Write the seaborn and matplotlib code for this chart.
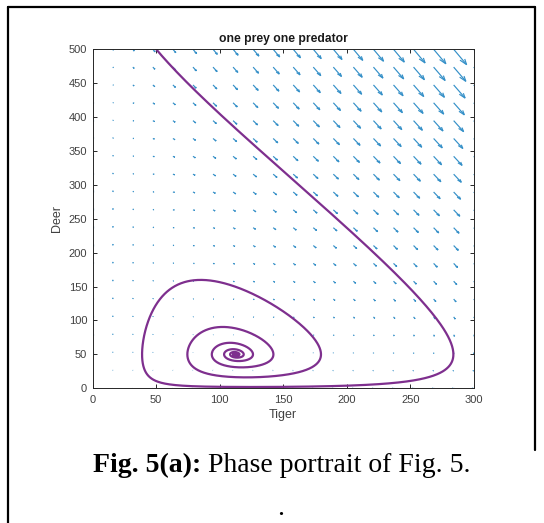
import numpy as np
import pandas as pd
import matplotlib
matplotlib.use("Agg")
import matplotlib.pyplot as plt
from matplotlib.lines import Line2D
from matplotlib.collections import LineCollection
import seaborn as sns

# Tiger (predator) / deer (prey) model coefficients
tiger_death = 0.05        # natural loss rate of tigers
tiger_gain = 0.001        # tiger growth per deer eaten
deer_growth = 0.25        # deer birth rate
deer_capacity = 500.0     # deer carrying capacity
deer_loss = 0.002         # deer lost per tiger encounter

# Initial populations of the plotted orbit: tiger, deer
start_tiger = 50.0
start_deer = 500.0
t_end = 520.0
dt = 0.05

# Direction-field sample grid and axis ticks
grid_tiger = np.linspace(0, 300, 20)
grid_deer = np.linspace(0, 500, 20)
x_ticks = [0, 50, 100, 150, 200, 250, 300]
y_ticks = [0, 50, 100, 150, 200, 250, 300, 350, 400, 450, 500]

title = "one prey one predator"
x_label = "Tiger"
y_label = "Deer"
caption_bold = "Fig. 5(a):"
caption_text = " Phase portrait of Fig. 5."


def rates(x, y):
    dx = -tiger_death * x + tiger_gain * x * y
    dy = deer_growth * y * (1.0 - y / deer_capacity) - deer_loss * x * y
    return dx, dy


# Integrate the orbit with classic RK4
n_steps = int(t_end / dt)
tig = np.empty(n_steps + 1)
dee = np.empty(n_steps + 1)
x, y = start_tiger, start_deer
tig[0], dee[0] = x, y
for i in range(n_steps):
    a1, b1 = rates(x, y)
    a2, b2 = rates(x + 0.5 * dt * a1, y + 0.5 * dt * b1)
    a3, b3 = rates(x + 0.5 * dt * a2, y + 0.5 * dt * b2)
    a4, b4 = rates(x + dt * a3, y + dt * b3)
    x += dt / 6.0 * (a1 + 2 * a2 + 2 * a3 + a4)
    y += dt / 6.0 * (b1 + 2 * b2 + 2 * b3 + b4)
    tig[i + 1], dee[i + 1] = x, y
orbit = pd.DataFrame({x_label: tig, y_label: dee})

# Direction field, auto-scaled so the longest arrow spans 0.9 grid cells
GX, GY = np.meshgrid(grid_tiger, grid_deer)
U, V = rates(GX, GY)
n_side = np.sqrt(GX.size)
delx = (grid_tiger.max() - grid_tiger.min()) / n_side
dely = (grid_deer.max() - grid_deer.min()) / n_side
arrow_len = np.sqrt((U ** 2 + V ** 2) / (delx ** 2 + dely ** 2))
k = 0.9 / arrow_len.max()
u = (U * k).ravel()
v = (V * k).ravel()
x0 = GX.ravel()
y0 = GY.ravel()

# Shaft plus two open head strokes (head = a third of the arrow)
alpha, beta = 0.33, 0.25
tipx, tipy = x0 + u, y0 + v
segs = []
for i in range(x0.size):
    segs.append([(x0[i], y0[i]), (tipx[i], tipy[i])])
    h1 = (tipx[i] - alpha * (u[i] + beta * v[i]), tipy[i] - alpha * (v[i] - beta * u[i]))
    h2 = (tipx[i] - alpha * (u[i] - beta * v[i]), tipy[i] - alpha * (v[i] + beta * u[i]))
    segs.append([h1, (tipx[i], tipy[i]), h2])

sns.set_theme(style="ticks")
plt.rcParams["font.family"] = ["Liberation Sans", "DejaVu Sans"]

axis_col = "#262626"
label_col = "#404040"

fig = plt.figure(figsize=(5.44, 5.23), dpi=100)
ax = fig.add_axes([0.1704, 0.2576, 0.7004, 0.6482])

field = LineCollection(segs, colors="#3590c8", linewidths=0.85,
                       capstyle="butt", joinstyle="miter", zorder=1)
ax.add_collection(field)

sns.lineplot(data=orbit, x=x_label, y=y_label, sort=False, estimator=None,
             color="#7E2F8E", linewidth=1.6, ax=ax, zorder=2)

ax.set_xlim(0, 300)
ax.set_ylim(0, 500)
ax.set_xticks(x_ticks)
ax.set_yticks(y_ticks)
ax.tick_params(direction="in", length=3, width=0.7, colors=axis_col,
               labelcolor=label_col, labelsize=8, top=True, right=True)
ax.tick_params(axis="x", pad=5)
ax.tick_params(axis="y", pad=4)
for s in ax.spines.values():
    s.set_visible(True)
    s.set_color(axis_col)
    s.set_linewidth(0.7)

ax.set_xlabel(x_label, fontsize=9, color=label_col, labelpad=3)
ax.set_ylabel(y_label, fontsize=9, color=label_col, labelpad=4)
ax.set_title(title, fontsize=8.7, fontweight="bold", color="#1a1a1a", pad=5)

# Frame around the figure
lw_frame = 1.6
fig.add_artist(Line2D([0.0147, 0.0147], [0.0, 0.9866], transform=fig.transFigure,
                      color="black", lw=lw_frame))
fig.add_artist(Line2D([0.0147, 0.9835], [0.9866, 0.9866], transform=fig.transFigure,
                      color="black", lw=lw_frame))
fig.add_artist(Line2D([0.9835, 0.9835], [0.9866, 0.14], transform=fig.transFigure,
                      color="black", lw=lw_frame))

# Caption: bold figure number followed by regular text
serif = ["Liberation Serif", "DejaVu Serif"]
t1 = fig.text(0.1704, 0.0981, caption_bold, family=serif, fontsize=20,
              fontweight="bold", color="black", ha="left", va="baseline")
renderer = fig.canvas.get_renderer()
bb = t1.get_window_extent(renderer=renderer)
x_next = bb.x1 / (fig.dpi * fig.get_figwidth())
fig.text(x_next, 0.0981, caption_text, family=serif, fontsize=20,
         color="black", ha="left", va="baseline")
fig.text(0.5165, 0.0153, ".", family=serif, fontsize=20, color="black",
         ha="center", va="baseline")

fig.savefig("out.png", dpi=100)
